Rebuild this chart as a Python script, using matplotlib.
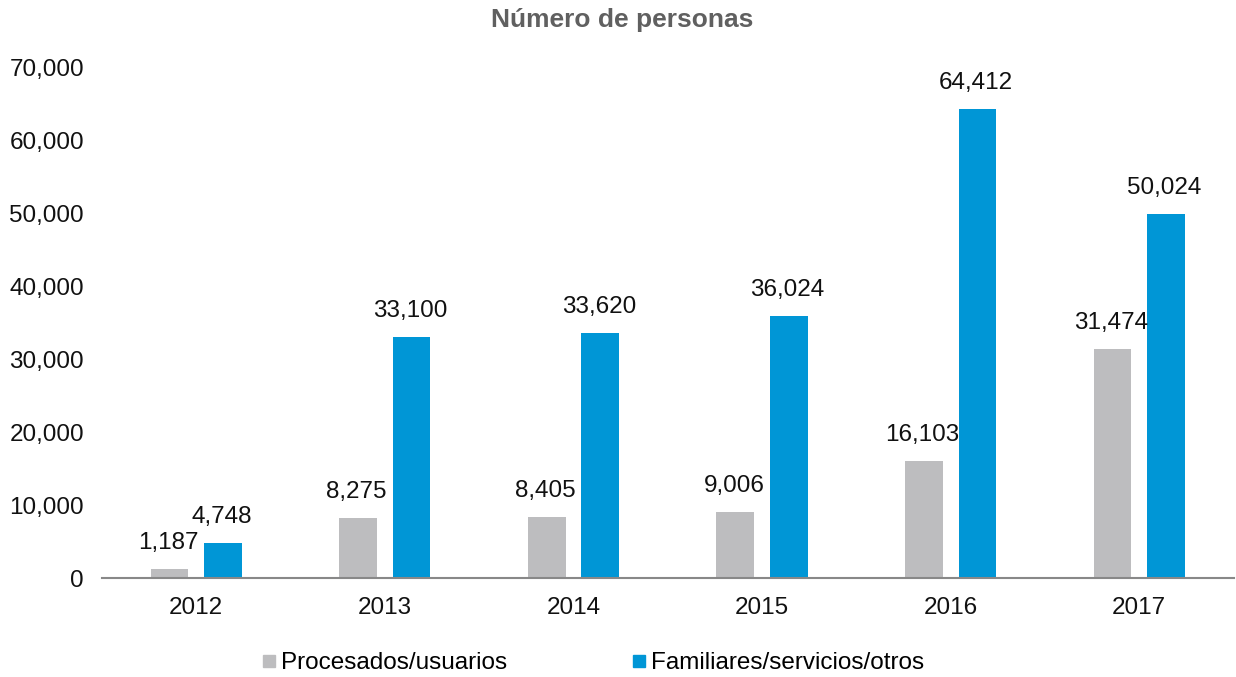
import matplotlib
matplotlib.use("Agg")
import matplotlib.pyplot as plt
from matplotlib.lines import Line2D
import numpy as np

plt.rcParams['font.family'] = ['Liberation Sans', 'DejaVu Sans']

years = ["2012", "2013", "2014", "2015", "2016", "2017"]
procesados = [1187, 8275, 8405, 9006, 16103, 31474]
familiares = [4748, 33100, 33620, 36024, 64412, 50024]
series_names = ["Procesados/usuarios", "Familiares/servicios/otros"]
yticks = [0, 10000, 20000, 30000, 40000, 50000, 60000, 70000]

grey = "#BDBDBF"
blue = "#0096D6"

fig = plt.figure(figsize=(12.36, 6.77), dpi=100)
ax = fig.add_axes([0.0825, 0.1462, 0.9155, 0.7534])

x = np.arange(len(years))
w = 0.2
off = 0.142
b1 = ax.bar(x - off, procesados, w, color=grey)
b2 = ax.bar(x + off, familiares, w, color=blue)

for bars, vals in ((b1, procesados), (b2, familiares)):
    for rect, v in zip(bars, vals):
        ax.annotate(f"{v:,}", (rect.get_x() + rect.get_width() / 2, rect.get_height()),
                    xytext=(-1, 14.4), textcoords="offset points",
                    ha="center", va="baseline", fontsize=17.5, color="#111111")

ax.set_xlim(-0.5, len(years) - 0.5)
ax.set_ylim(0, 70000)
ax.set_yticks(yticks)
ax.set_yticklabels([f"{t:,}" for t in yticks])
ax.set_xticks(x)
ax.set_xticklabels(years)
ax.tick_params(axis="both", length=0, labelsize=17.5, colors="#111111")
ax.tick_params(axis="y", pad=13)
ax.tick_params(axis="x", pad=14)
for s in ("top", "right", "left"):
    ax.spines[s].set_visible(False)
ax.spines["bottom"].set_color("#888888")
ax.spines["bottom"].set_linewidth(1.5)

fig.text(622 / 1236, 0.9705, "Número de personas", ha="center", va="center",
         fontsize=19, fontweight="bold", color="#606060")

handles = [Line2D([], [], marker="s", linestyle="none", markersize=9, color=grey),
           Line2D([], [], marker="s", linestyle="none", markersize=9, color=blue)]
fig.legend(handles, series_names, loc="center", bbox_to_anchor=(593 / 1236, 1 - 663 / 677),
           ncol=2, frameon=False, fontsize=17.5, handlelength=0.6, handletextpad=0.2,
           columnspacing=5.1)

fig.savefig("out.png", dpi=100)
